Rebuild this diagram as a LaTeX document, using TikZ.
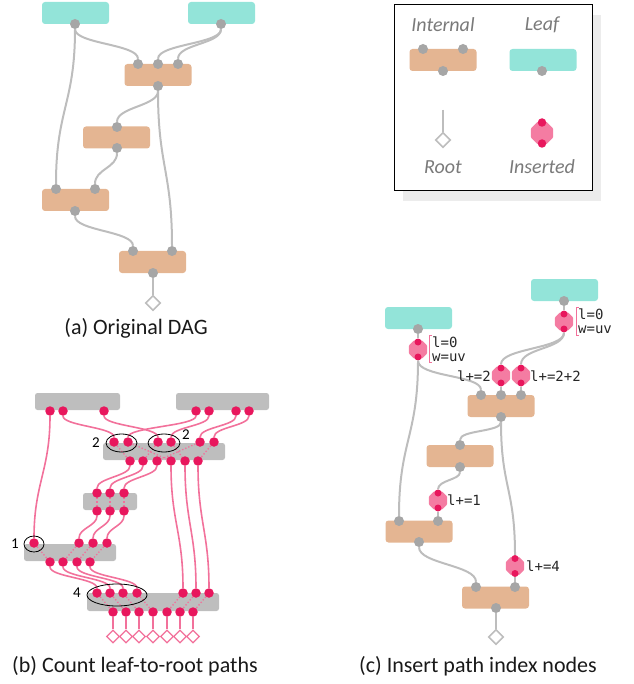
\documentclass[tikz,border=0pt]{standalone}
\usepackage{fontspec}
\setmainfont{Carlito}
\newfontfamily\monofont{DejaVu Sans Mono}
\usetikzlibrary{shapes.geometric}
\definecolor{leafc}{HTML}{93E4D9}
\definecolor{innerc}{HTML}{E4B592}
\definecolor{portc}{HTML}{A6A6A6}
\definecolor{edgec}{HTML}{BDBDBD}
\definecolor{boxc}{HTML}{BEBEBE}
\definecolor{dotc}{HTML}{E8175D}
\definecolor{pinkl}{HTML}{F2719B}
\definecolor{insc}{HTML}{F47CA2}
\definecolor{legc}{HTML}{7A7A7A}
\definecolor{shadc}{HTML}{ECECEC}

\begin{document}
\begin{tikzpicture}[x=1pt,y=-1pt,
    leaf/.style={fill=leafc,rounded corners=3pt,minimum width=67pt,minimum height=22pt,inner sep=0pt},
    intl/.style={fill=innerc,rounded corners=3pt,minimum width=67pt,minimum height=22pt,inner sep=0pt},
    gbox/.style={fill=boxc,rounded corners=2.5pt,minimum width=#1,minimum height=17pt,inner sep=0pt},
    port/.style={circle,fill=portc,minimum size=10pt,inner sep=0pt},
    rdot/.style={circle,fill=dotc,minimum size=9.5pt,inner sep=0pt},
    idot/.style={circle,fill=dotc,minimum size=7pt,inner sep=0pt},
    ins/.style={regular polygon,regular polygon sides=8,rounded corners=0.8pt,fill=insc,minimum size=20pt,inner sep=0pt},
    root/.style={diamond,draw=edgec,fill=white,line width=1.6pt,minimum size=15pt,inner sep=0pt},
    proot/.style={diamond,draw=pinkl,fill=white,line width=1.3pt,minimum size=13pt,inner sep=0pt},
    ell/.style={ellipse,draw=black,line width=0.8pt,inner sep=0pt},
    gl/.style={draw=edgec,line width=2pt},
    pl/.style={draw=pinkl,line width=1.6pt},
    pdt/.style={draw=pinkl,line width=1.3pt,dotted},
    brk/.style={draw=pinkl,line width=1pt},
    sc/.style={to path={.. controls +(0,#1) and +(0,-#1) .. (\tikztotarget)}},
    sc/.default=15,
    captxt/.style={font=\fontsize{22}{26}\selectfont,text=black!90},
    leg/.style={font=\fontsize{20}{24}\selectfont\itshape,text=legc},
    mono/.style={font=\monofont\fontsize{14}{14}\selectfont,inner sep=0pt,align=left,text=black!85},
    num/.style={font=\fontsize{15}{17}\selectfont,inner sep=0pt}]
\useasboundingbox (0,0) rectangle (633,684);

% (a) original DAG
\node[leaf] (aLf1) at (75.5,13) {};
\node[leaf] (aLf2) at (221.5,13) {};
\node[intl] (aN1) at (158,75) {};
\node[intl] (aN2) at (116.5,137.5) {};
\node[intl] (aN3) at (75.5,200) {};
\node[intl] (aN4) at (152.5,262) {};
\node[port] (aLf1o) at (75,24) {};
\node[port] (aLf2o) at (221,24) {};
\foreach \x [count=\i] in {138,158,178} \node[port] (aN1i\i) at (\x,64) {};
\node[port] (aN1o) at (158,86) {};
\node[port] (aN2i) at (117,127) {};
\node[port] (aN2o) at (117,148) {};
\node[port] (aN3i1) at (56,189) {};
\node[port] (aN3i2) at (95,189) {};
\node[port] (aN3o) at (75,211) {};
\node[port] (aN4i1) at (133,251) {};
\node[port] (aN4i2) at (172,251) {};
\node[port] (aN4o) at (153,273) {};
\node[root] (aRt) at (153,303) {};
\draw[gl] (aLf1o) to[sc=20] (aN1i1);
\draw[gl] (aLf1o) to[sc=80] (aN3i1);
\draw[gl] (aLf2o) to[sc=20] (aN1i2);
\draw[gl] (aLf2o) to[sc=20] (aN1i3);
\draw[gl] (aN1o) to[sc=20] (aN2i);
\draw[gl] (aN1o) to[sc=80] (aN4i2);
\draw[gl] (aN2o) to[sc=20] (aN3i2);
\draw[gl] (aN3o) to[sc=20] (aN4i1);
\draw[gl] (aN4o) -- (aRt);
\node[captxt] (aCap) at (136,328) {(a) Original DAG};

% legend
\fill[shadc] (403,15) rectangle (601,201);
\draw[fill=white,line width=1pt] (394,5) rectangle (592,191);
\node[leg] (gInt) at (443,25) {Internal};
\node[leg] (gLft) at (542,25) {Leaf};
\node[intl] (gN) at (443,60) {};
\node[port] (gNi1) at (423,49) {};
\node[port] (gNi2) at (463,49) {};
\node[port] (gNo) at (443,71) {};
\node[leaf] (gLf) at (543,60) {};
\node[port] (gLfo) at (542,71) {};
\coordinate (gRs) at (443,110);
\node[root] (gRt) at (443,140) {};
\draw[gl] (gRs) -- (gRt);
\node[ins,minimum size=24pt] (gIns) at (542,133) {};
\node[idot,minimum size=8.5pt] (gInst) at (542,122.5) {};
\node[idot,minimum size=8.5pt] (gInsb) at (542,143.5) {};
\node[leg] (gRtt) at (443,167) {Root};
\node[leg] (gInt2) at (542,167) {Inserted};

% (b) count leaf-to-root paths
\node[gbox=85pt] (bLf1) at (77.5,401.5) {};
\node[gbox=93pt] (bLf2) at (222.5,401.5) {};
\node[gbox=122pt] (bN1) at (164,451.5) {};
\node[gbox=54pt] (bN2) at (110,501.5) {};
\node[gbox=92pt] (bN3) at (70,552.5) {};
\node[gbox=132pt,minimum height=18pt] (bN4) at (153,602) {};
\foreach \x [count=\i] in {50,63,104} \node[rdot] (bl1\i) at (\x,411) {};
\foreach \x [count=\i] in {196,209,236,249} \node[rdot] (bl2\i) at (\x,411) {};
\foreach \x [count=\i] in {114,128,158,171,200,214} \node[rdot] (bat\i) at (\x,442) {};
\foreach \x [count=\i] in {130,143,157,171,185,198} \node[rdot] (bab\i) at (\x,461) {};
\foreach \x [count=\i] in {97,110,124} {
  \node[rdot] (bbt\i) at (\x,493) {};
  \node[rdot] (bbb\i) at (\x,511) {};
}
\foreach \x [count=\i] in {34,79,93,107} \node[rdot] (bct\i) at (\x,543) {};
\foreach \x [count=\i] in {50,63,77,90} \node[rdot] (bcb\i) at (\x,562) {};
\foreach \x [count=\i] in {97,110,123,137,183,196,209} \node[rdot] (bdt\i) at (\x,593) {};
\foreach \x [count=\i] in {113,126,139,153,167,180,193} {
  \node[rdot] (bdb\i) at (\x,612) {};
  \node[proot] (brt\i) at (\x,636.5) {};
}
\draw[pl] (bl11) to[sc=60] (bct1);
\foreach \a/\b in {2/1,3/3} \draw[pl] (bl1\a) to[sc] (bat\b);
\foreach \a/\b in {1/2,2/4,3/5,4/6} \draw[pl] (bl2\a) to[sc] (bat\b);
\foreach \a/\b in {1/1,2/4,3/2,4/5,5/3,6/6} \draw[pdt] (bat\a) -- (bab\b);
\foreach \i in {1,2,3} {
  \draw[pl] (bab\i) to[sc] (bbt\i);
  \draw[pdt] (bbt\i) -- (bbb\i);
}
\foreach \a/\b in {4/5,5/6,6/7} \draw[pl] (bab\a) to[sc=60] (bdt\b);
\foreach \a/\b in {1/2,2/3,3/4} \draw[pl] (bbb\a) to[sc] (bct\b);
\foreach \i in {1,...,4} {
  \draw[pdt] (bct\i) -- (bcb\i);
  \draw[pl] (bcb\i) to[sc] (bdt\i);
}
\foreach \i in {1,...,7} {
  \draw[pdt] (bdt\i) -- (bdb\i);
  \draw[pl] (bdb\i) -- (brt\i);
}
\node[ell,minimum width=31pt,minimum height=18pt] (be1) at (121.5,443) {};
\node[ell,minimum width=32pt,minimum height=18pt] (be2) at (164,443) {};
\node[ell,minimum width=20pt,minimum height=16pt] (be3) at (34,544) {};
\node[ell,minimum width=60pt,minimum height=22pt] (be4) at (117,595) {};
\node[num] (bn1) at (96,443) {2};
\node[num] (bn2) at (186,435) {2};
\node[num] (bn3) at (15,544) {1};
\node[num] (bn4) at (77,593) {4};
\node[captxt] (bCap) at (135,666) {(b) Count leaf-to-root paths};

% (c) insert path index nodes
\node[leaf] (cLf1) at (418.5,318) {};
\node[leaf] (cLf2) at (564.5,290) {};
\node[port] (cLf1o) at (418,329) {};
\node[port] (cLf2o) at (564,301) {};
\node[intl] (cN1) at (501,406) {};
\node[intl] (cN2) at (460,456) {};
\node[intl] (cN3) at (419,531.5) {};
\node[intl] (cN4) at (495.5,597.5) {};
\foreach \x [count=\i] in {481,501,521} \node[port] (cN1i\i) at (\x,395) {};
\node[port] (cN1o) at (501,417) {};
\node[port] (cN2i) at (460,445) {};
\node[port] (cN2o) at (460,467) {};
\node[port] (cN3i1) at (399,521) {};
\node[port] (cN3i2) at (438,521) {};
\node[port] (cN3o) at (419,542) {};
\node[port] (cN4i1) at (476,587) {};
\node[port] (cN4i2) at (515,587) {};
\node[port] (cN4o) at (496,608) {};
\node[root] (cRt) at (496,637) {};
% inserted nodes
\foreach \n/\x/\y in {L/418/349.5,R/564/321.5,2/501/375.5,3/521/375.5,1/438/500.5,4/515/566} {
  \node[ins] (cI\n) at (\x,\y) {};
  \node[idot] (cI\n t) at (\x,\y-7.5) {};
  \node[idot] (cI\n b) at (\x,\y+7.5) {};
}
\draw[gl] (cLf1o) -- (cILt);
\draw[gl] (cLf2o) -- (cIRt);
\draw[gl] (cILb) to[sc=20] (cN1i1);
\draw[gl] (cILb) to[sc=80] (cN3i1);
\draw[gl] (cIRb) to[sc=20] (cI2t);
\draw[gl] (cIRb) to[sc=20] (cI3t);
\draw[gl] (cI2b) -- (cN1i2);
\draw[gl] (cI3b) -- (cN1i3);
\draw[gl] (cN1o) to[sc=15] (cN2i);
\draw[gl] (cN1o) to[sc=70] (cI4t);
\draw[gl] (cI4b) -- (cN4i2);
\draw[gl] (cN2o) to[sc=13] (cI1t);
\draw[gl] (cI1b) -- (cN3i2);
\draw[gl] (cN3o) to[sc=22] (cN4i1);
\draw[gl] (cN4o) -- (cRt);
% path index labels
\node[mono,anchor=west] (cLbL) at (432,349) {l=0\\w=uv};
\draw[brk] (432,335) -- (429,335) -- (429,362) -- (432,362);
\node[mono,anchor=west] (cLbR) at (578,321) {l=0\\w=uv};
\draw[brk] (579,307) -- (576,307) -- (576,335) -- (579,335);
\node[mono,anchor=east] (cLb2) at (491,376) {l+=2};
\node[mono,anchor=west] (cLb3) at (530,376) {l+=2+2};
\node[mono,anchor=west] (cLb1) at (447,500.5) {l+=1};
\node[mono,anchor=west] (cLb4) at (526,566) {l+=4};
\node[captxt] (cCap) at (478,666) {(c) Insert path index nodes};
\end{tikzpicture}
\end{document}
